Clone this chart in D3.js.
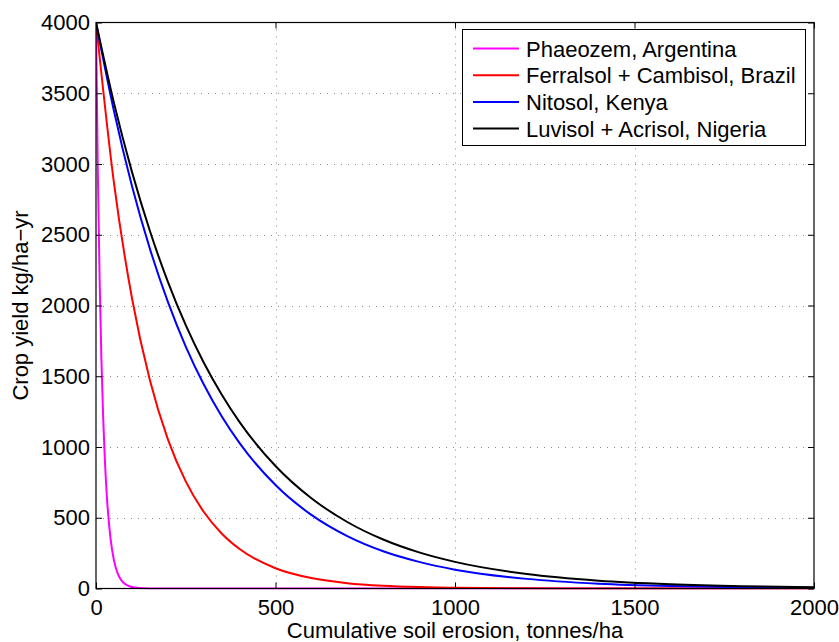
<!DOCTYPE html>
<html>
<head>
<meta charset="utf-8">
<script src="https://cdn.jsdelivr.net/npm/d3@7"></script>
<style>
  body { margin: 0; background: #fff; }
  svg { font-family: "Liberation Sans", Arial, sans-serif; }
</style>
</head>
<body>
<div id="chart"></div>
<script>
// values
const seriesNames = ['Phaeozem, Argentina', 'Ferralsol + Cambisol, Brazil', 'Nitosol, Kenya', 'Luvisol + Acrisol, Nigeria'];
const seriesColors = ['#ff00ff', '#ff0000', '#0000ff', '#000000'];

const phaeozemX = [0, 5, 10, 15, 20, 25, 30, 40, 50, 60, 70, 80, 100, 120, 150, 200, 2000];
const phaeozemY = [4000, 2963, 2195, 1626, 1205, 892, 661, 363, 199, 109, 60, 33, 10, 3, 0.5, 0, 0];

const erosionX = [0, 50, 100, 150, 200, 250, 300, 350, 400, 500, 600, 700, 800, 900, 1000, 1200, 1400, 1600, 1800, 2000];
const ferralsolY = [4000, 2867, 2055, 1473, 1056, 757, 542, 389, 279, 143, 73.5, 37.7, 19.4, 10, 5.1, 1.35, 0.36, 0.1, 0, 0];
const nitosolY = [4000, 3375, 2847, 2402, 2027, 1710, 1443, 1217, 1027, 731, 520, 370, 263, 188, 133, 68, 34, 17, 9, 4.5];
const luvisolY = [4000, 3432, 2946, 2528, 2169, 1861, 1597, 1371, 1176, 866, 638, 470, 346, 255, 188, 102, 55, 30, 16, 9];

const xTicks = [0, 500, 1000, 1500, 2000];
const yTicks = [0, 500, 1000, 1500, 2000, 2500, 3000, 3500, 4000];

const W = 839, H = 642;
const mLeft = 96, mRight = 814, mTop = 22.5, mBottom = 588.5;

const svg = d3.select('#chart').append('svg')
  .attr('width', W)
  .attr('height', H);

const x = d3.scaleLinear().domain([0, 2000]).range([mLeft, mRight]);
const y = d3.scaleLinear().domain([0, 4000]).range([mBottom, mTop]);

// grid
const grid = svg.append('g').attr('stroke', '#8a8a8a').attr('stroke-width', 1).attr('stroke-dasharray', '1,6');
grid.selectAll('.gx').data(xTicks.slice(1, -1)).enter().append('line')
  .attr('x1', d => Math.round(x(d)) + 0.5).attr('x2', d => Math.round(x(d)) + 0.5)
  .attr('y1', mTop).attr('y2', mBottom);
grid.selectAll('.gy').data(yTicks.slice(1, -1)).enter().append('line')
  .attr('y1', d => Math.round(y(d)) + 0.5).attr('y2', d => Math.round(y(d)) + 0.5)
  .attr('x1', mLeft).attr('x2', mRight);

// curves
const line = d3.line()
  .x(d => x(d[0]))
  .y(d => y(d[1]))
  .curve(d3.curveMonotoneX);

const allSeries = [
  d3.zip(phaeozemX, phaeozemY),
  d3.zip(erosionX, ferralsolY),
  d3.zip(erosionX, nitosolY),
  d3.zip(erosionX, luvisolY)
];

svg.append('defs').append('clipPath').attr('id', 'clip')
  .append('rect').attr('x', mLeft).attr('y', mTop - 2).attr('width', mRight - mLeft).attr('height', mBottom - mTop + 3);

svg.append('g').attr('clip-path', 'url(#clip)')
  .selectAll('path').data(allSeries).enter().append('path')
  .attr('d', line)
  .attr('fill', 'none')
  .attr('stroke', (d, i) => seriesColors[i])
  .attr('stroke-width', 2);

// axes (MATLAB style: ticks inside, box all round)
const fontSize = 22;
const fmt = d3.format('d');
svg.append('g').attr('transform', 'translate(0,' + mBottom + ')')
  .call(d3.axisBottom(x).tickValues(xTicks).tickFormat(fmt).tickSizeInner(-6).tickSizeOuter(0).tickPadding(11));
svg.append('g').attr('transform', 'translate(' + mLeft + ',0)')
  .call(d3.axisLeft(y).tickValues(yTicks).tickFormat(fmt).tickSizeInner(-6).tickSizeOuter(0).tickPadding(6));
svg.append('g').attr('transform', 'translate(0,' + mTop + ')')
  .call(d3.axisTop(x).tickValues(xTicks).tickSizeInner(-6).tickSizeOuter(0).tickFormat(''));
svg.append('g').attr('transform', 'translate(' + mRight + ',0)')
  .call(d3.axisRight(y).tickValues(yTicks).tickSizeInner(-6).tickSizeOuter(0).tickFormat(''));

svg.selectAll('.domain').remove();
svg.selectAll('.tick line').attr('stroke', '#000');
svg.selectAll('.tick text')
  .attr('font-family', '"Liberation Sans", Arial, sans-serif')
  .attr('font-size', fontSize)
  .attr('fill', '#000');

svg.append('rect')
  .attr('x', mLeft).attr('y', mTop)
  .attr('width', mRight - mLeft).attr('height', mBottom - mTop)
  .attr('fill', 'none').attr('stroke', '#000').attr('stroke-width', 1.2);

// axis labels
svg.append('text')
  .attr('x', (mLeft + mRight) / 2).attr('y', 638)
  .attr('text-anchor', 'middle')
  .attr('font-size', fontSize)
  .text('Cumulative soil erosion, tonnes/ha');

svg.append('text')
  .attr('transform', 'translate(28,' + ((mTop + mBottom) / 2) + ') rotate(-90)')
  .attr('text-anchor', 'middle')
  .attr('font-size', fontSize)
  .text('Crop yield kg/ha\u2212yr');

// legend
const legend = svg.append('g');
legend.append('rect')
  .attr('x', 462.5).attr('y', 29.5)
  .attr('width', 343).attr('height', 116)
  .attr('fill', '#fff').attr('stroke', '#000').attr('stroke-width', 1);

const rows = legend.selectAll('.row').data(seriesNames).enter().append('g')
  .attr('transform', (d, i) => 'translate(0,' + (48.5 + i * 26.7) + ')');
rows.append('line')
  .attr('x1', 473).attr('x2', 519)
  .attr('stroke', (d, i) => seriesColors[i])
  .attr('stroke-width', 2);
rows.append('text')
  .attr('x', 526).attr('y', 8)
  .attr('font-size', 22)
  .text(d => d);
</script>
</body>
</html>
